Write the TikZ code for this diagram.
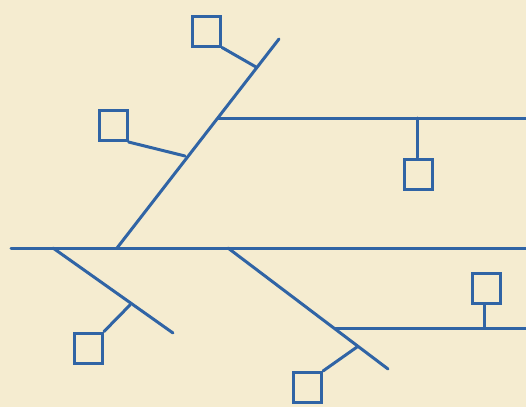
\documentclass[tikz,border=0pt]{standalone}
\begin{document}
\begin{tikzpicture}[x=1pt,y=-1pt,
  bone/.style={draw=lineblue,line width=3pt,line cap=round},
  cause/.style={draw=lineblue,line width=3pt,minimum width=28pt,minimum height=30pt,inner sep=0pt},
]
\definecolor{lineblue}{RGB}{48,100,165}
\definecolor{paper}{RGB}{245,236,208}
\fill[paper] (0,0) rectangle (526,407);
\useasboundingbox (0,0) rectangle (526,407);
% spine
\coordinate (s0) at (11,248);
\coordinate (s1) at (526,248);
\draw[bone] (s0) -- (s1);
% upper diagonal
\coordinate (d1a) at (117,248);
\coordinate (d1b) at (279,39);
\draw[bone] (d1a) -- (d1b);
\node[cause] (b1) at (206.5,31) {};
\coordinate (j1) at (256,67);
\draw[bone] (b1.south east) -- (j1);
\node[cause] (b2) at (113,125.5) {};
\coordinate (j2) at (185,156);
\draw[bone] (b2.south east) -- (j2);
% upper horizontal branch
\coordinate (h1a) at (218,118);
\coordinate (h1b) at (526,118);
\draw[bone] (h1a) -- (h1b);
\coordinate (j3) at (417,118);
\node[cause] (b3) at (418,174) {};
\draw[bone] (j3) -- (b3.north -| j3);
% lower left diagonal
\coordinate (d2a) at (53,248);
\coordinate (d2b) at (173,333);
\draw[bone] (d2a) -- (d2b);
\coordinate (j4) at (130,305);
\node[cause] (b4) at (88.5,348) {};
\draw[bone] (j4) -- (b4.north east);
% lower middle diagonal
\coordinate (d3a) at (228,248);
\coordinate (d3b) at (388,369);
\draw[bone] (d3a) -- (d3b);
\coordinate (j5) at (357,347);
\node[cause] (b5) at (307.5,387.5) {};
\draw[bone] (j5) -- (b5.north east);
% lower horizontal branch
\coordinate (h2a) at (335,328);
\coordinate (h2b) at (526,328);
\draw[bone] (h2a) -- (h2b);
\coordinate (j6) at (484,328);
\node[cause] (b6) at (486.5,288) {};
\draw[bone] (j6) -- (b6.south -| j6);
\end{tikzpicture}
\end{document}
